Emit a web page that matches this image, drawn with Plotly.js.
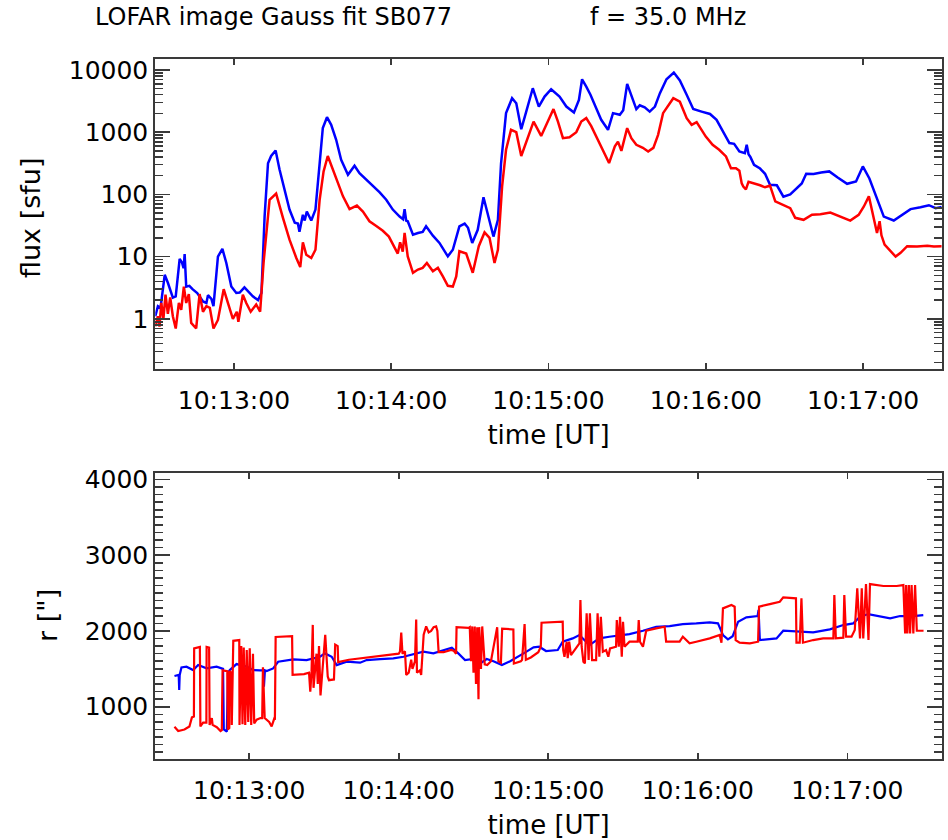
<!DOCTYPE html>
<html>
<head>
<meta charset="utf-8">
<script src="https://cdn.plot.ly/plotly-3.0.1.min.js"></script>
<style>html,body{margin:0;padding:0;background:#fff;}#chart{width:948px;height:840px;}</style>
</head>
<body>
<div id="chart"></div>
<script>
// time in seconds after 10:12:30 UT
const fluxBlueT = [0,1,2,3.6,4.8,6.7,7.8,9.3,10.2,10.8,11.2,11.8,13,14.2,16,18.2,19.5,20.1,21.4,22.2,23.9,25.6,27.1,29,30.9,32.2,34,35.2,37.2,39.2,40.5,41.7,43,44.2,45.9,47.4,49,51.2,53.2,54.4,55,56.3,57,57.8,59.5,61.1,62.7,63.9,65.5,67.1,69,70.9,73.5,76,77.9,80.5,83,85.6,88.1,90.6,93.2,94.5,95.1,95.7,96.3,98.3,100.2,102,103.3,105.9,108.4,111.6,113.5,116,118,119.3,120.9,123,125.2,126.9,129,130.7,131.9,133.8,136.1,137.7,139.6,141.5,144,146.3,148.5,151,154.2,156.8,159.7,161.6,162.8,164.4,166,168.2,170.1,172.7,174.6,177.2,178.5,180,181.6,183.5,184.8,186.7,188.6,190.6,192.5,195,197.8,200.1,202.7,205.2,208.4,211.6,214.1,216.7,219,220.8,222.8,224.9,225.6,226.3,227,228.4,230.7,232.6,234.5,237.1,239.6,242.2,244.7,246.6,248.3,251.1,254,257.1,260.3,263.9,267.3,269.9,272.4,276,277.9,281.7,284.3,288.1,291.9,295.1,297.7,300];
const fluxBlue = [1.1,1.6,1.5,5.1,3.8,2.2,2.3,9.2,8.0,6.5,11,3.3,3.4,3.0,2.6,1.9,1.8,2.4,2.1,1.6,10,13.3,7.9,3.3,2.6,2.65,3.2,2.8,2.3,2.0,2.6,44,316,414,508,251,135,57,35,34,25,47,38,53,38,57,316,1160,1740,1313,754,360,207,289,219,172,134,108,82,57,44,40,58,38,37,22.5,24,25,30.7,21.7,16.6,10.1,12.9,30.7,34,29,16.6,27,90,47,21,39,316,2020,3510,2917,1117,2140,5080,2580,3730,4900,3730,2580,2070,3300,7080,5400,4000,2430,1578,1090,2020,1900,2250,5960,4000,2350,2700,2500,2140,2580,4230,7080,9060,6760,4000,2350,2140,1960,1578,1000,667,650,490,460,626,440,400,299,260,214,143,140,92,100,126,150,214,212,225,234,187,148,161,281,180,68,44,38,45,58,62,67,60,63];

const fluxRedT = [0,1,1.6,2.3,3.1,3.9,4.8,5.7,6.7,7.8,9,9.9,10.9,11.8,12.8,13.7,15.6,16.9,18.2,19.5,20.8,22.2,23.9,26.1,27.7,29.6,31.1,31.7,33.4,34.7,36.4,38.5,40,41.3,43.6,46.1,48.7,51.2,53.8,55.3,56.3,57.6,59.5,61.1,62.7,64.2,65.8,67.8,69.7,71.6,74.1,76.9,79.2,81.7,84.3,86.8,89.1,90.6,92.5,93.4,94.4,95.1,96.3,98.3,100.2,102,103.6,105.9,107.8,109.7,111.6,113.5,114.8,116,118.6,121.1,123.4,125.6,127.5,129.4,130.7,132.3,133.8,135.7,137.7,139.6,141.5,144.3,147.2,149.7,151.9,153.6,155.5,158,160.6,162.5,164.4,166.3,168.2,170.1,173.1,175.3,176.5,177.8,180,181.6,183.5,186,188,190,191.8,193.7,197.6,200.1,202.7,204.6,206.5,210,212.6,215.1,217.7,219.6,221.5,222.8,223.7,224.3,225.3,226.3,228.2,230.7,232.6,234.5,236.5,239.6,242.2,244.1,247.3,250.5,253.7,257.5,261.3,265.1,268.3,270.3,272.2,273.5,275.3,276.3,277,278.2,280.5,282.4,284.3,286.8,290.6,294.5,297,300];
const fluxRed = [0.76,1.1,0.75,1.8,1.0,2.45,1.2,2.2,1.1,0.7,1.8,1.4,3.3,1.8,2.5,0.86,0.7,2.5,1.3,1.6,1.5,0.7,0.96,3.0,1.8,1.0,1.3,0.9,2.45,1.8,1.3,1.7,1.3,7.9,82,103,42,18.7,9.5,6.8,17,10.7,9.5,12.9,82,234,414,251,152,93,58,66,53,37,31,26,21,16,11.2,17,12,24,10.1,5.5,6.2,6.6,7.9,5.8,6.6,4.8,3.4,3.3,4.8,12.2,11.2,5.5,14.7,24.5,20,7.9,12.9,134,521,1090,1000,414,706,1480,870,1480,2350,1480,802,830,1000,1480,1680,1250,850,590,319,590,706,500,1160,800,626,560,490,560,906,2020,3510,3090,1680,1313,1450,850,626,521,407,264,264,240,150,134,120,160,152,140,130,138,77,68,60,42,39,47,48,51,44,38,47,64,93,55,24,37,22,15.6,12.2,10,11.5,14.7,14.5,15,14.5,14.7];

const rBlueT = [0,1.7,1.9,2.1,2.8,4.8,7.5,9.5,12.9,16.9,19.5,19.8,21,21.5,22.2,24.9,28.9,31.6,34.3,35.7,35.9,36.3,37,39.6,41.6,45,47.7,53,55.7,58.4,60.4,63.1,65.1,69.1,74.5,77.1,82.5,87.8,91.9,95.9,99.9,103.9,107.9,111.3,113.9,116.6,120,122.7,125.3,128,131.4,134.7,140.1,144.1,146.4,149.1,153.8,155.8,159.8,162.5,166.5,170.5,174.5,179.9,182.6,188,193.3,198.7,204,209.4,214.8,218.1,220.1,222.1,224,226.2,229.5,234,234.4,234.9,241.6,244.3,249.6,256.3,263,268.4,272.4,275.1,278.4,283.1,287.2,291.2,296.5,300.5];
const rBlue = [1405,1420,1220,1420,1519,1528,1484,1550,1506,1528,1500,700,670,1450,1484,1563,1530,1484,1480,1480,1264,1480,1470,1506,1594,1616,1625,1616,1638,1660,1704,1660,1550,1594,1581,1616,1629,1638,1660,1691,1726,1704,1748,1779,1704,1616,1630,1572,1630,1600,1550,1600,1704,1783,1792,1735,1748,1858,1902,1946,1814,1902,1924,1946,1959,2003,2056,2065,2091,2100,2113,2100,1946,1889,1930,2122,2179,2197,2276,1880,1902,2003,1990,1981,2021,2078,2100,2188,2223,2188,2166,2197,2197,2210];

const rRedT = [0,1.5,4,6,7,7.8,7.9,10.2,10.4,11.5,12.8,12.9,13.9,14.1,15,15.3,17,18.5,19,19.3,21.2,21.4,22,22.1,22.8,23,23.6,26,26.1,26.8,27.3,27.8,28.4,29,29.6,30.2,30.8,31.5,32,33,34.5,35.2,35.5,36.2,38,39,40,40.3,40.6,47.2,47.4,52,54,54.5,55,55.5,55.8,57,57.5,58,58.6,59.5,60.5,61.5,62,64,64.5,65.5,65.7,70,75,80,85,90,90.5,91,91.5,92.5,93,94,95,95.5,96.5,97,97.3,98.5,99,100,101,102,103,104,105,105.5,106,108,111,112,113,113.2,118,118.5,119,119.5,120,120.5,121,121.5,122,122.3,123,123.5,124.5,125.5,127,129.5,130,131,131.5,136,136.2,139,139.5,140.5,141,143,146,
147,147.3,155.8,156,156.5,157.4,157.8,158.4,159.1,162.5,162.9,163.4,164.1,164.7,165.4,166.2,166.7,167.6,169.2,169.8,170.5,171.1,171.9,173.2,174.1,174.8,177.2,177.5,178.3,178.8,179.5,180,180.6,182.6,185.9,186.3,186.8,188,189.3,193.3,196.7,197.3,202.7,204,206.7,209.4,214.8,218.8,219.5,220.1,223.5,224.8,225.2,226.8,230.9,234.2,234.6,238.9,242.9,244.3,249.4,249.6,250.9,251.6,252.2,256.3,260.3,264.4,264.8,265.4,268.4,268.8,269.5,271.7,273,274,275.1,275.8,276.4,277.5,278.5,279.1,284.5,289.8,292.5,293.2,293.6,294.1,294.7,295.2,295.8,296.5,297.2,297.9,300.6];
const rRed = [736,680,700,740,860,870,1770,1790,740,790,790,1790,1780,760,850,760,730,680,690,1480,1470,700,720,1470,1450,760,1870,1880,760,1800,770,1780,760,1750,800,1770,760,1700,780,830,850,850,1520,850,800,740,840,830,1920,1930,1420,1430,1450,1200,1460,2080,1250,1700,1300,1800,1150,1500,1950,1400,1350,1360,1820,1800,1590,1620,1640,1660,1680,1700,1730,1980,1700,1730,1420,1450,1620,1500,1600,2150,1450,1480,1420,1950,2060,1980,2000,2050,2060,2000,1720,1720,1750,1740,1700,2050,2040,2050,1600,2060,1450,2060,1300,2050,1100,2050,1500,2060,1560,1550,1600,2050,1600,1580,2030,2020,1570,1600,1620,2090,1620,1650,1720,
1792,2109,2122,1748,1660,1858,1640,1858,1682,1836,2408,1792,1594,1572,2232,1616,2232,1616,1616,2232,1660,2188,1726,1748,1660,1770,1792,2144,1792,2188,1660,2122,1792,1858,1858,2144,1858,1792,2003,2034,2056,1858,1858,1924,1836,1858,1902,1946,1845,2298,2342,2320,1880,1845,1836,1858,2320,2355,2386,2443,2430,1845,1845,2430,1845,1880,1902,1902,2474,1902,1911,2474,1924,1924,2012,2562,1902,2562,1902,2619,1880,2619,2593,2593,2606,1968,2606,1968,2606,1968,2606,1968,2606,2003,2003];

const fluxTicks = [1, 10, 100, 1000, 10000];
const fluxTickText = ['1', '10', '100', '1000', '10000'];
const rTicks = [1000, 2000, 3000, 4000];
const timeTickStart = '2000-01-01 10:13:00';

function toDate(t) {
  const ms = Date.UTC(2000, 0, 1, 10, 12, 30) + Math.round(t * 1000);
  return new Date(ms).toISOString().replace('T', ' ').replace('Z', '');
}

// minor tick positions (axis decoration)
const minorLog = [];
for (let e = -1; e <= 4; e++) for (let d = 2; d <= 9; d++) minorLog.push(d * Math.pow(10, e));
const minorLin = [];
for (let v = 400; v <= 4000; v += 100) if (v % 1000 !== 0) minorLin.push(v);

const FONT = 'DejaVu Sans';
const lineCol = '#3a3a3a';
const fluxRange = [-0.81, 4.18];
const rRange = [310, 4080];

const traces = [
  {x: fluxBlueT.map(toDate), y: fluxBlue, xaxis: 'x', yaxis: 'y', mode: 'lines', line: {color: '#0000ff', width: 2.5}},
  {x: fluxRedT.map(toDate), y: fluxRed, xaxis: 'x', yaxis: 'y', mode: 'lines', line: {color: '#ff0000', width: 2.5}},
  {x: rBlueT.map(toDate), y: rBlue, xaxis: 'x2', yaxis: 'y2', mode: 'lines', line: {color: '#0000ff', width: 2.2}},
  {x: rRedT.map(toDate), y: rRed, xaxis: 'x2', yaxis: 'y2', mode: 'lines', line: {color: '#ff0000', width: 2.2}},
  // empty traces so the overlay axes carrying the minor ticks get a subplot
  {x: [], y: [], xaxis: 'x', yaxis: 'y3', mode: 'lines'},
  {x: [], y: [], xaxis: 'x2', yaxis: 'y4', mode: 'lines'}
];

const xCommon = {
  type: 'date', tickformat: '%H:%M:%S', dtick: 60000, tick0: timeTickStart,
  ticks: 'inside', ticklen: 6, tickcolor: lineCol, tickwidth: 1.6,
  showline: true, linecolor: lineCol, linewidth: 2, mirror: 'ticks',
  showgrid: false, zeroline: false, ticklabelstandoff: 8,
  tickfont: {family: FONT, size: 25, color: '#000'},
  title: {text: 'time [UT]', font: {family: FONT, size: 26, color: '#000'}, standoff: 12}
};

const yCommon = {
  ticks: 'inside', ticklen: 15, tickcolor: lineCol, tickwidth: 1.6,
  showline: true, linecolor: lineCol, linewidth: 2, mirror: 'ticks',
  showgrid: false, zeroline: false,
  tickfont: {family: FONT, size: 25, color: '#000'}
};

const minorCommon = {
  ticks: 'inside', ticklen: 8, tickcolor: lineCol, tickwidth: 1.6,
  showline: true, linecolor: lineCol, linewidth: 2, mirror: 'ticks',
  showgrid: false, zeroline: false, showticklabels: false, tickmode: 'array'
};

const layout = {
  width: 948, height: 840,
  margin: {l: 0, r: 0, t: 0, b: 0},
  paper_bgcolor: '#fff', plot_bgcolor: '#fff',
  showlegend: false, hovermode: false,
  xaxis: Object.assign({}, xCommon, {domain: [0.1638, 0.9934], anchor: 'y', range: [toDate(0), toDate(300)]}),
  xaxis2: Object.assign({}, xCommon, {domain: [0.1638, 0.9934], anchor: 'y2', range: [toDate(-7.7), toDate(307.9)]}),
  yaxis: Object.assign({}, yCommon, {
    type: 'log', domain: [0.5604, 0.9301], anchor: 'x', range: fluxRange,
    tickmode: 'array', tickvals: fluxTicks, ticktext: fluxTickText
  }),
  yaxis2: Object.assign({}, yCommon, {
    domain: [0.0964, 0.4365], anchor: 'x2', range: rRange,
    tickmode: 'array', tickvals: rTicks
  }),
  yaxis3: Object.assign({}, minorCommon, {type: 'log', overlaying: 'y', anchor: 'x', range: fluxRange, tickvals: minorLog}),
  yaxis4: Object.assign({}, minorCommon, {overlaying: 'y2', anchor: 'x2', range: rRange, tickvals: minorLin}),
  annotations: [
    {text: 'LOFAR image Gauss fit SB077', xref: 'paper', yref: 'paper', x: 93 / 948, y: 1 - 17 / 840, xanchor: 'left', yanchor: 'middle', showarrow: false, font: {family: FONT, size: 24, color: '#000'}},
    {text: 'f = 35.0 MHz', xref: 'paper', yref: 'paper', x: 588 / 948, y: 1 - 17 / 840, xanchor: 'left', yanchor: 'middle', showarrow: false, font: {family: FONT, size: 24, color: '#000'}},
    {text: 'flux [sfu]', textangle: -90, xref: 'paper', yref: 'paper', x: 31 / 948, y: 1 - 218 / 840, xanchor: 'center', yanchor: 'middle', showarrow: false, font: {family: FONT, size: 27, color: '#000'}},
    {text: 'r ["]', textangle: -90, xref: 'paper', yref: 'paper', x: 47 / 948, y: 1 - 616 / 840, xanchor: 'center', yanchor: 'middle', showarrow: false, font: {family: FONT, size: 27, color: '#000'}}
  ]
};

Plotly.newPlot('chart', traces, layout, {displayModeBar: false, staticPlot: true});
</script>
</body>
</html>
